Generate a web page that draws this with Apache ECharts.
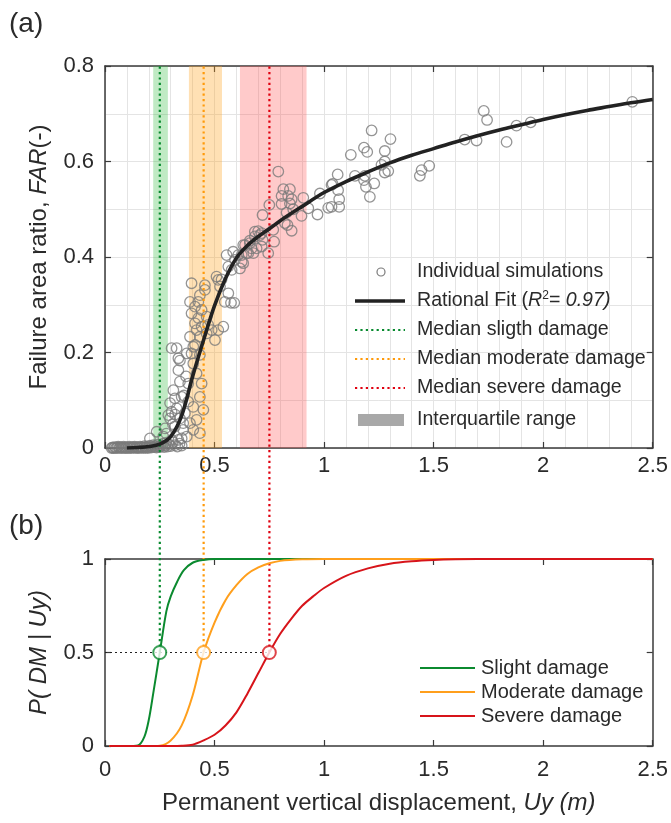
<!DOCTYPE html>
<html>
<head>
<meta charset="utf-8">
<script src="https://cdn.jsdelivr.net/npm/echarts@6/dist/echarts.min.js"></script>
<style>
  html, body { margin: 0; padding: 0; background: #fff; }
  #chart { width: 671px; height: 823px; }
</style>
</head>
<body>
<div id="chart"></div>
<script>
// ---- Panel (a): individual simulations (Uy in m, FAR) ----
const simX = [
  0.03,0.035,0.04,0.045,0.05,0.055,0.06,0.065,0.07,0.075,0.08,0.085,0.09,0.095,0.10,0.105,0.11,0.115,0.12,0.125,
  0.13,0.135,0.14,0.145,0.15,0.155,0.16,0.165,0.17,0.175,0.18,0.185,0.19,0.195,0.20,0.205,0.21,0.215,0.22,0.225,
  0.23,0.235,0.24,0.245,0.25,0.255,0.26,0.265,0.27,0.275,0.28,0.285,0.29,0.30,0.31,0.32,0.33,0.34,0.35,
  0.304,0.342,0.335,0.373,0.312,0.342,0.380,0.418,0.297,0.304,0.327,0.297,0.342,0.365,0.388,0.418,
  0.403,0.357,0.319,0.274,0.236,0.205,0.266,0.304,0.335,0.373,0.433,0.449,0.433,0.441,0.403,0.433,
  0.388,0.433,0.411,0.464,0.418,0.335,0.350,0.319,0.380,0.403,0.357,0.289,0.280,0.310,0.350,0.320,
  0.360,0.370,
  0.395,0.456,0.456,0.433,0.388,0.426,0.411,0.441,0.395,0.426,0.464,0.411,0.441,0.471,0.487,0.517,
  0.540,0.502,0.403,0.395,0.327,0.509,0.517,0.532,0.547,0.575,0.590,0.563,0.555,0.563,0.585,0.608,
  0.593,0.631,0.661,0.692,0.684,0.715,0.578,0.624,0.646,0.525,
  0.791,0.814,0.844,0.806,0.836,0.852,0.806,0.844,0.905,0.750,0.719,0.829,0.859,0.897,0.928,0.970,
  1.019,1.034,0.981,0.821,0.833,0.852,0.768,0.699,0.707,0.684,0.772,0.719,0.661,0.639,0.669,0.715,
  0.624,0.654,0.677,0.616,0.631,0.745,
  1.217,1.303,1.122,1.182,1.197,1.277,1.062,1.039,1.064,1.069,1.069,1.034,1.141,1.186,1.182,1.191,
  1.229,1.209,1.262,1.277,1.277,1.293,1.437,1.445,1.480,
  1.642,1.696,1.729,1.744,1.833,1.878,1.943,2.407
];
const simY = [
  0.000,0.001,0.000,0.002,0.000,0.001,0.003,0.000,0.002,0.001,0.000,0.003,0.001,0.000,0.002,0.000,0.003,0.001,0.000,0.002,
  0.001,0.003,0.000,0.002,0.001,0.000,0.003,0.001,0.002,0.000,0.004,0.001,0.003,0.000,0.002,0.005,0.001,0.003,0.006,0.002,
  0.004,0.001,0.007,0.003,0.002,0.006,0.004,0.009,0.002,0.005,0.011,0.003,0.008,0.004,0.012,0.006,0.003,0.009,0.005,
  0.209,0.183,0.163,0.198,0.121,0.139,0.135,0.156,0.094,0.076,0.083,0.062,0.062,0.073,0.052,0.059,
  0.038,0.038,0.045,0.041,0.034,0.020,0.024,0.017,0.017,0.024,0.031,0.080,0.107,0.135,0.177,0.195,
  0.233,0.233,0.216,0.240,0.247,0.188,0.107,0.104,0.097,0.086,0.052,0.069,0.030,0.050,0.020,0.070,
  0.110,0.150,
  0.345,0.341,0.331,0.320,0.306,0.306,0.296,0.289,0.282,0.272,0.275,0.261,0.254,0.258,0.247,0.247,
  0.254,0.226,0.212,0.198,0.209,0.359,0.352,0.353,0.306,0.304,0.304,0.324,0.404,0.380,0.411,0.404,
  0.394,0.425,0.429,0.418,0.453,0.450,0.373,0.390,0.408,0.338,
  0.579,0.542,0.542,0.528,0.528,0.521,0.511,0.512,0.524,0.509,0.488,0.493,0.500,0.486,0.502,0.489,
  0.503,0.551,0.533,0.471,0.467,0.455,0.457,0.454,0.446,0.443,0.432,0.436,0.434,0.425,0.418,0.422,
  0.404,0.408,0.408,0.376,0.387,0.408,
  0.665,0.647,0.614,0.629,0.620,0.622,0.573,0.553,0.540,0.521,0.505,0.505,0.570,0.570,0.561,0.547,
  0.554,0.526,0.593,0.600,0.577,0.580,0.570,0.582,0.591,
  0.646,0.644,0.706,0.687,0.641,0.675,0.682,0.725
];

// Rational fit curve (R^2 = 0.97)
const fitX = [0.10,0.15,0.20,0.25,0.30,0.35,0.40,0.45,0.50,0.55,0.60,0.65,0.70,0.75,0.80,0.90,1.00,
              1.10,1.20,1.30,1.40,1.50,1.60,1.70,1.80,1.90,2.00,2.10,2.20,2.30,2.40,2.50];
const fitY = [0.000,0.001,0.003,0.008,0.024,0.068,0.150,0.226,0.298,0.355,0.398,0.424,0.443,0.459,0.476,0.506,0.535,
              0.558,0.578,0.597,0.613,0.627,0.641,0.654,0.666,0.677,0.688,0.698,0.707,0.715,0.723,0.730];

// Damage states: medians and interquartile ranges of Uy
const stateNames   = ['Slight damage', 'Moderate damage', 'Severe damage'];
const medianNames  = ['Median sligth damage', 'Median moderate damage', 'Median severe damage'];
const medianUy     = [0.25, 0.45, 0.75];
const iqrLow       = [0.220, 0.383, 0.616];
const iqrHigh      = [0.287, 0.534, 0.920];

// ---- Panel (b): fragility curves P(DM | Uy) ----
const slightX = [0.02,0.10,0.15,0.18,0.20,0.22,0.25,0.28,0.30,0.33,0.36,0.40,0.45,0.50,1.00,2.50];
const slightY = [0.000,0.000,0.003,0.050,0.140,0.280,0.500,0.720,0.800,0.880,0.940,0.980,0.995,1.000,1.000,1.000];
const moderateX = [0.02,0.20,0.25,0.30,0.35,0.40,0.45,0.50,0.55,0.60,0.65,0.70,0.75,0.80,0.90,1.00,2.50];
const moderateY = [0.000,0.000,0.002,0.030,0.110,0.270,0.500,0.660,0.780,0.860,0.920,0.955,0.977,0.990,0.998,1.000,1.000];
const severeX = [0.02,0.30,0.35,0.40,0.45,0.50,0.55,0.60,0.65,0.70,0.75,0.80,0.85,0.90,0.95,1.00,
                 1.10,1.20,1.30,1.40,1.50,1.60,1.80,2.00,2.50];
const severeY = [0.000,0.000,0.001,0.007,0.030,0.060,0.110,0.180,0.280,0.390,0.500,0.600,0.680,0.750,0.800,0.845,
                 0.910,0.950,0.975,0.988,0.995,0.998,1.000,1.000,1.000];

const stateColors = ['#0b8a2f', '#ff9f1c', '#d7141a'];
const dotColors   = ['#078a2e', '#ff9a0a', '#e0000f'];
const bandColors  = ['rgba(60,190,70,0.32)', 'rgba(255,165,40,0.35)', 'rgba(255,90,90,0.32)'];

const FONT = '"Liberation Sans", Arial, sans-serif';
const AXIS_COLOR = '#3a3a3a';
const GRID_COLOR = '#e4e4e4';
const TEXT_COLOR = '#2a2a2a';

const zip = (xs, ys) => xs.map((x, i) => [x, ys[i]]);

function baseAxis(extra) {
  return Object.assign({
    axisLine: { show: true, onZero: false, lineStyle: { color: AXIS_COLOR, width: 1.5 } },
    axisTick: { show: true, inside: true, length: 6, lineStyle: { color: AXIS_COLOR, width: 1.2 } },
    axisLabel: { show: false },
    splitLine: { show: false },
  }, extra);
}

const tickLabel = (margin) => ({ show: true, color: TEXT_COLOR, fontSize: 22, fontFamily: FONT, margin });
const nameStyle = {
  color: TEXT_COLOR, fontSize: 24, fontFamily: FONT,
  rich: { i: { fontStyle: 'italic', fontSize: 24, fontFamily: FONT, color: TEXT_COLOR } }
};

const xAxes = [
  // panel (a) bottom
  baseAxis({ type: 'value', gridIndex: 0, position: 'bottom', min: 0, max: 2.5, interval: 0.5,
    axisLabel: tickLabel(7),
    splitLine: { show: true, lineStyle: { color: GRID_COLOR, width: 1 } },
    minorTick: { show: false, splitNumber: 5 },
    minorSplitLine: { show: true, lineStyle: { color: GRID_COLOR, width: 1 } } }),
  // panel (a) top
  baseAxis({ type: 'value', gridIndex: 0, position: 'top', min: 0, max: 2.5, interval: 0.5 }),
  // panel (b) bottom
  baseAxis({ type: 'value', gridIndex: 1, position: 'bottom', min: 0, max: 2.5, interval: 0.5,
    axisLabel: tickLabel(13),
    name: 'Permanent vertical displacement, {i|Uy (m)}',
    nameLocation: 'middle', nameGap: 45, nameTextStyle: nameStyle }),
  // panel (b) top
  baseAxis({ type: 'value', gridIndex: 1, position: 'top', min: 0, max: 2.5, interval: 0.5 }),
  // overlay for median guide lines
  { type: 'value', gridIndex: 2, min: 0, max: 2.5, show: false }
];

const yAxes = [
  baseAxis({ type: 'value', gridIndex: 0, position: 'left', min: 0, max: 0.8, interval: 0.2,
    axisLabel: tickLabel(11),
    splitLine: { show: true, lineStyle: { color: GRID_COLOR, width: 1 } },
    minorTick: { show: false, splitNumber: 2 },
    minorSplitLine: { show: true, lineStyle: { color: GRID_COLOR, width: 1 } },
    name: 'Failure area ratio, {i|FAR}(-)',
    nameLocation: 'middle', nameGap: 54, nameRotate: 90, nameTextStyle: nameStyle }),
  baseAxis({ type: 'value', gridIndex: 0, position: 'right', min: 0, max: 0.8, interval: 0.2 }),
  baseAxis({ type: 'value', gridIndex: 1, position: 'left', min: 0, max: 1, interval: 0.5,
    axisLabel: tickLabel(11),
    name: '{i|P( DM | Uy)}',
    nameLocation: 'middle', nameGap: 54, nameRotate: 90, nameTextStyle: nameStyle }),
  baseAxis({ type: 'value', gridIndex: 1, position: 'right', min: 0, max: 1, interval: 0.5 }),
  { type: 'value', gridIndex: 2, min: 0, max: 1, show: false }
];

const series = [];

// interquartile ranges as shaded bands
series.push({
  type: 'line', xAxisIndex: 0, yAxisIndex: 0, data: [], silent: true, z: 1,
  markArea: {
    silent: true,
    data: iqrLow.map((lo, i) => [
      { xAxis: lo, itemStyle: { color: bandColors[i] } },
      { xAxis: iqrHigh[i] }
    ])
  }
});

// individual simulations
series.push({
  type: 'scatter', name: 'Individual simulations', xAxisIndex: 0, yAxisIndex: 0, z: 3,
  data: zip(simX, simY), symbol: 'circle', symbolSize: 10.5,
  itemStyle: { color: 'rgba(255,255,255,0)', borderColor: '#7a7a7a', borderWidth: 1.3 }
});

// median guide lines spanning both panels
medianUy.forEach((m, i) => {
  series.push({
    type: 'line', name: medianNames[i], xAxisIndex: 4, yAxisIndex: 4, z: 4,
    data: [[m, 0], [m, 1]], symbol: 'none',
    lineStyle: { color: dotColors[i], width: 2.2, type: [2.2, 3.2] }
  });
});

// rational fit
series.push({
  type: 'line', name: 'Rational Fit', xAxisIndex: 0, yAxisIndex: 0, z: 5,
  data: zip(fitX, fitY), smooth: 0.35, symbol: 'none',
  lineStyle: { color: '#222', width: 3.6 }
});

// 0.5 probability reference line
series.push({
  type: 'line', xAxisIndex: 2, yAxisIndex: 2, z: 3,
  data: [[0, 0.5], [medianUy[2], 0.5]], symbol: 'none',
  lineStyle: { color: '#222', width: 1, type: [2, 3] }
});

// fragility curves
[[slightX, slightY], [moderateX, moderateY], [severeX, severeY]].forEach(([xs, ys], i) => {
  series.push({
    type: 'line', name: stateNames[i], xAxisIndex: 2, yAxisIndex: 2, z: 4,
    data: zip(xs, ys), smooth: 0.3, symbol: 'none',
    lineStyle: { color: stateColors[i], width: 2 }
  });
});

// median markers at P = 0.5
medianUy.forEach((m, i) => {
  series.push({
    type: 'scatter', xAxisIndex: 2, yAxisIndex: 2, z: 6,
    data: [[m, 0.5]], symbol: 'circle', symbolSize: 13,
    itemStyle: { color: '#fff', borderColor: stateColors[i], borderWidth: 2 }
  });
});

// legends drawn as graphic elements
const legendText = (x, y, text, size, rich) => ({
  type: 'text', x, y, silent: true, z: 10,
  style: { text, fill: TEXT_COLOR, font: size + 'px ' + FONT, verticalAlign: 'middle', rich }
});
const legendLine = (x1, x2, y, stroke, width, dash) => ({
  type: 'line', silent: true, z: 10,
  shape: { x1, y1: y, x2, y2: y },
  style: { stroke, lineWidth: width, lineDash: dash || null }
});

const LA = 19.6, LB = 20;
const legendA_y = [272, 301, 330, 359, 388, 420];
const graphic = [
  { type: 'text', left: 9, top: 10, style: { text: '(a)', fill: TEXT_COLOR, font: '28px ' + FONT } },
  { type: 'text', left: 9, top: 512, style: { text: '(b)', fill: TEXT_COLOR, font: '28px ' + FONT } },
  { type: 'circle', silent: true, z: 10, shape: { cx: 381, cy: legendA_y[0], r: 4 },
    style: { fill: 'none', stroke: '#7a7a7a', lineWidth: 1.2 } },
  legendText(417, legendA_y[0], 'Individual simulations', LA),
  legendLine(355, 405, legendA_y[1], '#222', 3.6),
  legendText(417, legendA_y[1], 'Rational Fit ({i|R}{s|2}= {i|0.97)}', LA, {
    i: { fontStyle: 'italic', fontSize: LA, fontFamily: FONT, fill: TEXT_COLOR },
    s: { fontSize: 12, fontFamily: FONT, fill: TEXT_COLOR, padding: [0, 0, 10, 0] }
  }),
  legendLine(355, 405, legendA_y[2], dotColors[0], 2.2, [2.2, 3.2]),
  legendText(417, legendA_y[2], medianNames[0], LA),
  legendLine(355, 405, legendA_y[3], dotColors[1], 2.2, [2.2, 3.2]),
  legendText(417, legendA_y[3], medianNames[1], LA),
  legendLine(355, 405, legendA_y[4], dotColors[2], 2.2, [2.2, 3.2]),
  legendText(417, legendA_y[4], medianNames[2], LA),
  { type: 'rect', silent: true, z: 10, shape: { x: 358, y: legendA_y[5] - 6, width: 46, height: 12 },
    style: { fill: '#a8a8a8' } },
  legendText(417, legendA_y[5], 'Interquartile range', LA),
];
const legendB_y = [668, 692, 716];
stateNames.forEach((n, i) => {
  graphic.push(legendLine(420, 475, legendB_y[i], stateColors[i], 2));
  graphic.push(legendText(481, legendB_y[i], n, LB));
});

const chart = echarts.init(document.getElementById('chart'), null, { renderer: 'canvas' });
chart.setOption({
  animation: false,
  backgroundColor: '#fff',
  textStyle: { fontFamily: FONT },
  grid: [
    { left: 105, top: 66, width: 548, height: 382, containLabel: false },
    { left: 105, top: 559, width: 548, height: 187, containLabel: false },
    { left: 105, top: 66, width: 548, height: 586, containLabel: false }
  ],
  xAxis: xAxes,
  yAxis: yAxes,
  series,
  graphic
});
</script>
</body>
</html>
